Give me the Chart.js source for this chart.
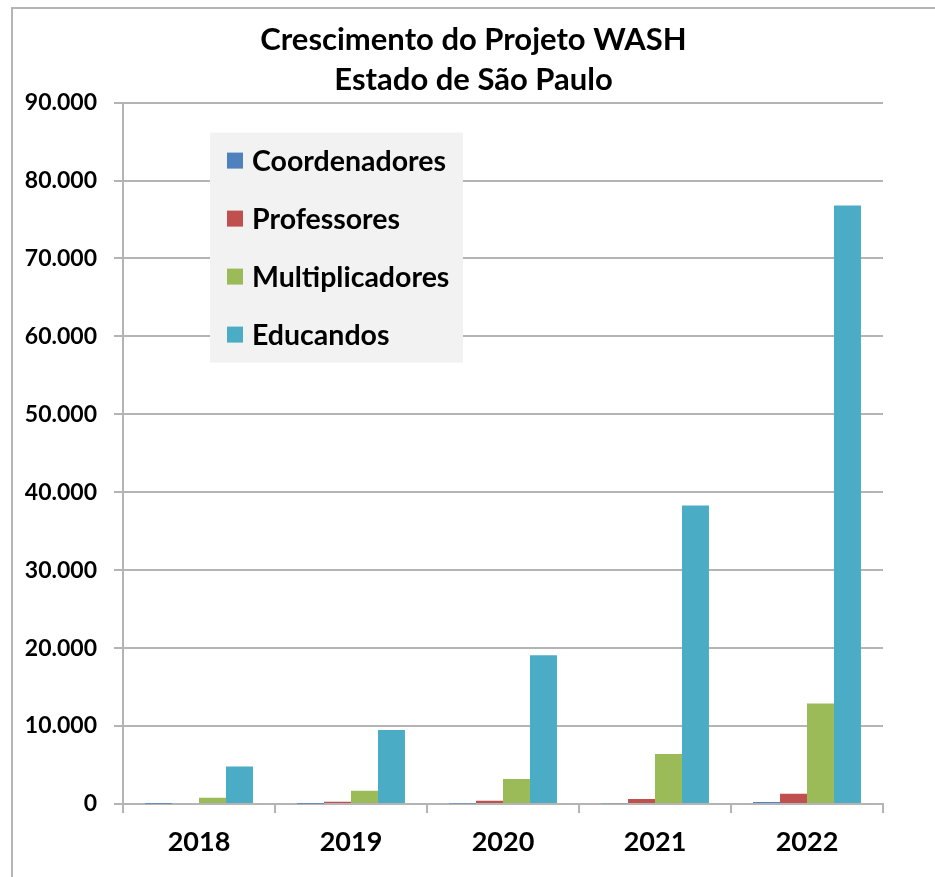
<!DOCTYPE html>
<html lang="pt-BR">
<head>
<meta charset="utf-8">
<title>Crescimento do Projeto WASH</title>
<script src="https://cdn.jsdelivr.net/npm/chart.js@4.4.1/dist/chart.umd.min.js"></script>
<style>
  html, body { margin: 0; padding: 0; background: #fff; }
  #wrap { width: 935px; height: 877px; position: relative; }
</style>
</head>
<body>
<div id="wrap"><canvas id="grafico-wash"></canvas></div>
<script>
// Dados
const anos = ['2018', '2019', '2020', '2021', '2022'];
const coordenadores = [20, 30, 60, 90, 250];
const professores = [120, 280, 420, 650, 1300];
const multiplicadores = [800, 1700, 3200, 6400, 12900];
const educandos = [4800, 9500, 19100, 38300, 76800];
const tituloLinhas = ['Crescimento do Projeto WASH', 'Estado de São Paulo'];

const fonte = 'Lato, Carlito, "DejaVu Sans", sans-serif';

// moldura cinza (esquerda e topo)
const moldura = {
  id: 'moldura',
  beforeDraw(chart) {
    const c = chart.ctx;
    c.save();
    c.strokeStyle = '#b4b4b4';
    c.lineWidth = 2;
    c.beginPath();
    c.moveTo(12, chart.height);
    c.lineTo(12, 8);
    c.lineTo(chart.width, 8);
    c.stroke();
    c.restore();
  }
};

// legenda dentro da área do gráfico
const legendaInterna = {
  id: 'legendaInterna',
  afterDatasetsDraw(chart) {
    const c = chart.ctx;
    const a = chart.chartArea;
    const x0 = a.left + 87, y0 = a.top + 30, w = 253, h = 230;
    c.save();
    c.fillStyle = '#f2f2f2';
    c.fillRect(x0, y0, w, h);
    c.font = 'bold 28.5px ' + fonte;
    c.textBaseline = 'middle';
    chart.data.datasets.forEach((ds, i) => {
      const cy = y0 + 28 + i * 58;
      c.fillStyle = ds.backgroundColor;
      c.fillRect(x0 + 17, cy - 8, 16, 16);
      c.fillStyle = '#000';
      c.fillText(ds.label, x0 + 42, cy + 1);
    });
    c.restore();
  }
};

const ctx = document.getElementById('grafico-wash').getContext('2d');

new Chart(ctx, {
  type: 'bar',
  data: {
    labels: anos,
    datasets: [
      { label: 'Coordenadores', data: coordenadores, backgroundColor: '#4f81bd' },
      { label: 'Professores', data: professores, backgroundColor: '#c0504d' },
      { label: 'Multiplicadores', data: multiplicadores, backgroundColor: '#9bbb59' },
      { label: 'Educandos', data: educandos, backgroundColor: '#4bacc6' }
    ]
  },
  options: {
    responsive: true,
    maintainAspectRatio: false,
    animation: false,
    layout: { padding: { left: 12, right: 0, top: 0, bottom: 0 } },
    datasets: { bar: { categoryPercentage: 0.71, barPercentage: 1 } },
    plugins: {
      legend: { display: false },
      tooltip: { enabled: false },
      title: {
        display: true,
        text: tituloLinhas,
        color: '#000',
        font: { family: fonte, size: 31, weight: 'bold', lineHeight: 1.3 },
        padding: { top: 20, bottom: 2 }
      }
    },
    scales: {
      x: {
        grid: { drawOnChartArea: false, drawTicks: true, tickLength: 9, color: '#b4b4b4', lineWidth: 2 },
        border: { color: '#b4b4b4', width: 2 },
        ticks: { color: '#000', padding: 13, font: { family: fonte, size: 27, weight: 'bold' } },
        afterFit: s => { s.height = 73; }
      },
      y: {
        min: 0,
        max: 90000,
        ticks: {
          stepSize: 10000,
          color: '#000',
          padding: 17,
          font: { family: fonte, size: 23, weight: 'bold' },
          callback: v => v.toLocaleString('pt-BR')
        },
        grid: { color: '#b4b4b4', lineWidth: 2, tickLength: 9 },
        border: { color: '#b4b4b4', width: 2 },
        afterFit: s => { s.width = 111; }
      },
      direita: {
        position: 'right',
        grid: { display: false },
        ticks: { display: false },
        border: { display: false },
        afterFit: s => { s.width = 52; }
      }
    }
  },
  plugins: [moldura, legendaInterna]
});
</script>
</body>
</html>
